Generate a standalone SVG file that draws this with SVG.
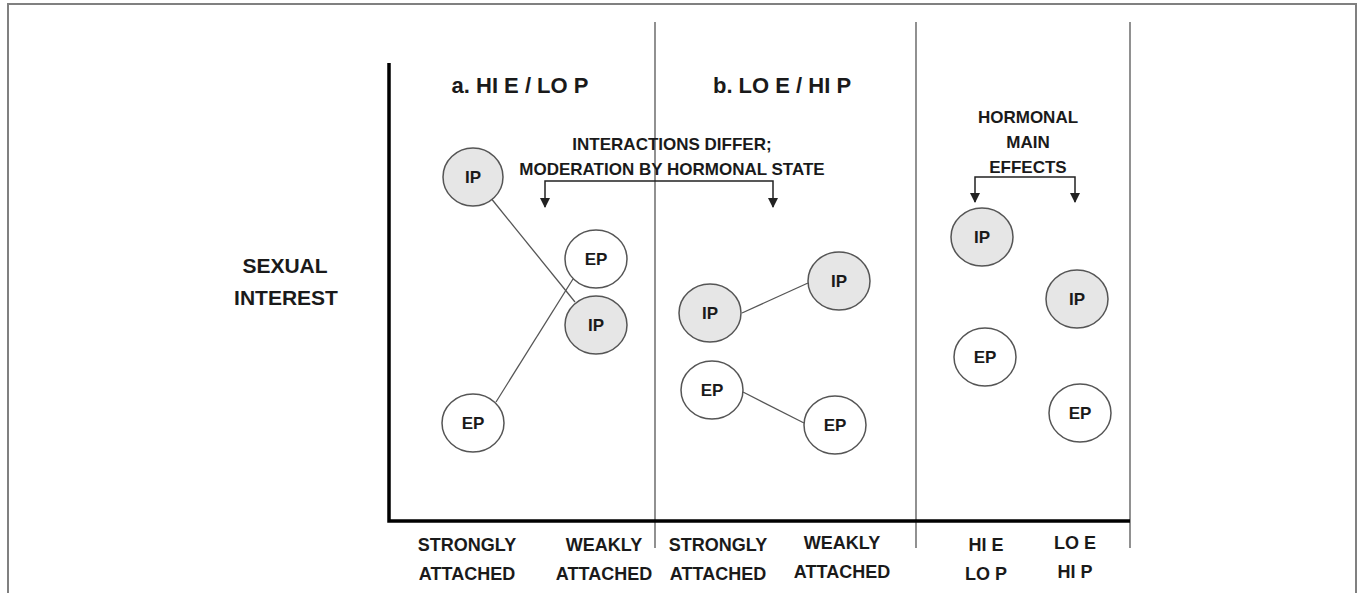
<svg xmlns="http://www.w3.org/2000/svg" width="1360" height="593" viewBox="0 0 1360 593">
<defs>
<style>
text{font-family:"Liberation Sans",Arial,sans-serif;font-weight:bold;fill:#1a1a1a;text-anchor:middle}
.frame{fill:none;stroke:#808080;stroke-width:2}
.div{stroke:#555;stroke-width:1.3}
.axis{stroke:#000;stroke-width:3.5;fill:none}
.ip ellipse{fill:#e6e6e6;stroke:#555;stroke-width:1.5}
.ep ellipse{fill:#fff;stroke:#555;stroke-width:1.5}
.node text{font-size:17px}
.conn line{stroke:#555;stroke-width:1.3}
.br{fill:none;stroke:#222;stroke-width:1.5}
.lab{font-size:18px}
.head{font-size:21px}
.title{font-size:22px}
.note{font-size:17px}
</style>
<marker id="arr" viewBox="0 0 10 10" refX="9" refY="5" markerWidth="10" markerHeight="10" markerUnits="userSpaceOnUse" orient="auto-start-reverse">
<path d="M0,0 L10,5 L0,10 z" fill="#222"/>
</marker>
</defs>
<rect width="1360" height="593" fill="#fff"/>
<path class="frame" d="M8,593 V4 H1356 V593"/>
<line class="div" x1="655" y1="22" x2="655" y2="548"/>
<line class="div" x1="916" y1="22" x2="916" y2="548"/>
<line class="div" x1="1130" y1="22" x2="1130" y2="548"/>
<path class="axis" d="M389,63 V521 H1130"/>

<text class="title" x="520" y="93">a. HI E / LO P</text>
<text class="title" x="782" y="93">b. LO E / HI P</text>
<text class="note" x="672" y="150">INTERACTIONS DIFFER;</text>
<text class="note" x="672" y="175">MODERATION BY HORMONAL STATE</text>
<text class="note" x="1028" y="123">HORMONAL</text>
<text class="note" x="1028" y="148">MAIN</text>
<text class="note" x="1028" y="173">EFFECTS</text>
<text class="head" x="285" y="273">SEXUAL</text>
<text class="head" x="286" y="305">INTEREST</text>

<text class="lab" x="467" y="551">STRONGLY</text>
<text class="lab" x="467" y="580">ATTACHED</text>
<text class="lab" x="604" y="551">WEAKLY</text>
<text class="lab" x="604" y="580">ATTACHED</text>
<text class="lab" x="718" y="551">STRONGLY</text>
<text class="lab" x="718" y="580">ATTACHED</text>
<text class="lab" x="842" y="549">WEAKLY</text>
<text class="lab" x="842" y="578">ATTACHED</text>
<text class="lab" x="986" y="551">HI E</text>
<text class="lab" x="986" y="580">LO P</text>
<text class="lab" x="1075" y="549">LO E</text>
<text class="lab" x="1075" y="578">HI P</text>

<g id="connectors" class="conn">
<line x1="490" y1="197" x2="575" y2="302"/>
<line x1="496" y1="402" x2="573" y2="279"/>
<line x1="742" y1="313" x2="808" y2="283"/>
<line x1="743" y1="392" x2="804" y2="423"/>
<path class="br" d="M545,207 V181 H773 V207" marker-start="url(#arr)" marker-end="url(#arr)"/>
<path class="br" d="M975,202 V177 H1075 V202" marker-start="url(#arr)" marker-end="url(#arr)"/>
</g>

<g id="a-ip-strong" class="node ip"><ellipse cx="473" cy="177" rx="30" ry="29"/><text x="473" y="183">IP</text></g>
<g id="a-ep-weak" class="node ep"><ellipse cx="596" cy="259" rx="31" ry="29"/><text x="596" y="265">EP</text></g>
<g id="a-ip-weak" class="node ip"><ellipse cx="596" cy="325" rx="31" ry="29"/><text x="596" y="331">IP</text></g>
<g id="a-ep-strong" class="node ep"><ellipse cx="473" cy="423" rx="31" ry="29"/><text x="473" y="429">EP</text></g>

<g id="b-ip-strong" class="node ip"><ellipse cx="710" cy="313" rx="31" ry="29"/><text x="710" y="319">IP</text></g>
<g id="b-ip-weak" class="node ip"><ellipse cx="839" cy="281" rx="31" ry="29"/><text x="839" y="287">IP</text></g>
<g id="b-ep-strong" class="node ep"><ellipse cx="712" cy="390" rx="31" ry="29"/><text x="712" y="396">EP</text></g>
<g id="b-ep-weak" class="node ep"><ellipse cx="835" cy="425" rx="31" ry="29"/><text x="835" y="431">EP</text></g>

<g id="c-ip-hie" class="node ip"><ellipse cx="982" cy="237" rx="31" ry="29"/><text x="982" y="243">IP</text></g>
<g id="c-ep-hie" class="node ep"><ellipse cx="985" cy="357" rx="31" ry="29"/><text x="985" y="363">EP</text></g>
<g id="c-ip-loe" class="node ip"><ellipse cx="1077" cy="299" rx="31" ry="29"/><text x="1077" y="305">IP</text></g>
<g id="c-ep-loe" class="node ep"><ellipse cx="1080" cy="413" rx="31" ry="29"/><text x="1080" y="419">EP</text></g>
</svg>
